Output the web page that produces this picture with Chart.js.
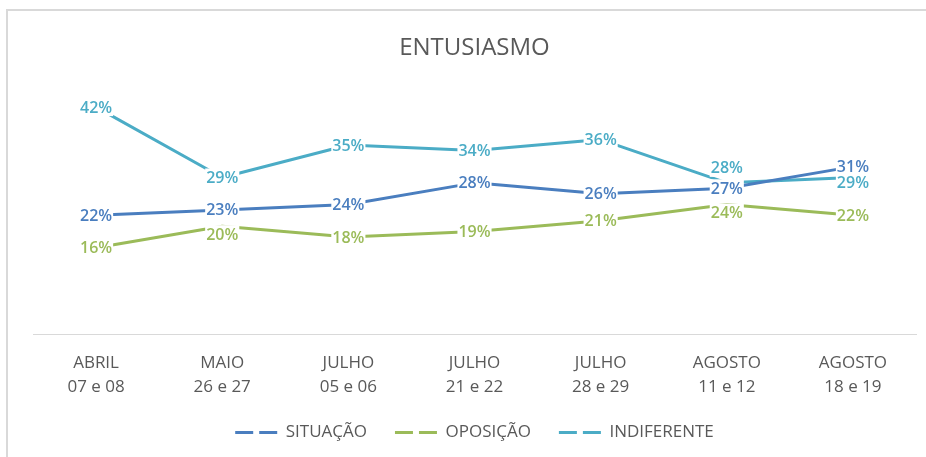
<!DOCTYPE html>
<html>
<head>
<meta charset="utf-8">
<script src="https://cdn.jsdelivr.net/npm/chart.js@4/dist/chart.umd.min.js"></script>
<style>
  html, body { margin: 0; padding: 0; background: #ffffff; }
  #wrap { position: relative; width: 926px; height: 457px; overflow: hidden; }
  #frame { position: absolute; left: 6px; top: 9px; right: -10px; bottom: -10px;
           border-top: 2px solid #d9d9d9; border-left: 2px solid #d9d9d9; }
  canvas { position: absolute; left: 0; top: 0; }
</style>
</head>
<body>
<div id="wrap">
  <div id="frame"></div>
  <canvas id="c" width="926" height="457"></canvas>
</div>
<script>
const categories = [
  ["ABRIL", "07 e 08"],
  ["MAIO", "26 e 27"],
  ["JULHO", "05 e 06"],
  ["JULHO", "21 e 22"],
  ["JULHO", "28 e 29"],
  ["AGOSTO", "11 e 12"],
  ["AGOSTO", "18 e 19"]
];
const situacao    = [0.22, 0.23, 0.24, 0.28, 0.26, 0.27, 0.31];
const oposicao    = [0.16, 0.20, 0.18, 0.19, 0.21, 0.24, 0.22];
const indiferente = [0.42, 0.29, 0.35, 0.34, 0.36, 0.28, 0.29];
const seriesNames = ["SITUAÇÃO", "OPOSIÇÃO", "INDIFERENTE"];

const colors = ["#4a7ebf", "#9bbb59", "#4bacc6"];
const FONT = "'Open Sans', 'Liberation Sans', sans-serif";

// small manual nudges for overlapping data labels (dataset index -> point index -> dy px)
const labelNudge = { 1: { 1: 8, 5: 8 }, 2: { 5: -15, 6: 5 } };

const dataLabels = {
  id: 'dataLabels',
  afterDatasetsDraw(chart) {
    const ctx = chart.ctx;
    ctx.save();
    ctx.font = "600 16px " + FONT;
    ctx.textAlign = 'center';
    ctx.textBaseline = 'middle';
    chart.data.datasets.forEach((ds, di) => {
      const meta = chart.getDatasetMeta(di);
      meta.data.forEach((pt, i) => {
        const txt = Math.round(ds.data[i] * 100) + '%';
        const dy = (labelNudge[di] && labelNudge[di][i]) || 0;
        const x = pt.x, y = pt.y + dy;
        const w = ctx.measureText(txt).width;
        ctx.fillStyle = '#ffffff';
        ctx.fillRect(x - w / 2 - 1, y - 9, w + 2, 18);
        ctx.fillStyle = ds.borderColor;
        ctx.fillText(txt, x, y + 1);
      });
    });
    ctx.restore();
  }
};

new Chart(document.getElementById('c'), {
  type: 'line',
  data: {
    labels: categories,
    datasets: [
      { label: seriesNames[0], data: situacao, borderColor: colors[0], backgroundColor: colors[0] },
      { label: seriesNames[1], data: oposicao, borderColor: colors[1], backgroundColor: colors[1] },
      { label: seriesNames[2], data: indiferente, borderColor: colors[2], backgroundColor: colors[2] }
    ]
  },
  options: {
    responsive: false,
    animation: false,
    devicePixelRatio: 1,
    layout: { padding: { left: 33, right: 10, top: 0, bottom: 6 } },
    elements: {
      line: { borderWidth: 3, tension: 0, borderCapStyle: 'round', borderJoinStyle: 'round' },
      point: { radius: 0, hoverRadius: 0 }
    },
    plugins: {
      title: {
        display: true,
        text: 'ENTUSIASMO',
        color: '#595959',
        font: { family: FONT, size: 24, weight: 'normal' },
        padding: { top: 34, bottom: 1 }
      },
      legend: {
        position: 'bottom',
        labels: {
          color: '#595959',
          font: { family: FONT, size: 17 },
          usePointStyle: true,
          pointStyle: 'line',
          pointStyleWidth: 42,
          boxWidth: 42,
          boxHeight: 17,
          padding: 28,
          generateLabels(chart) {
            const items = Chart.defaults.plugins.legend.labels.generateLabels(chart);
            items.forEach(it => {
              it.lineDash = [18, 6];
              it.lineWidth = 3;
              it.pointStyle = 'line';
            });
            return items;
          }
        }
      },
      tooltip: { enabled: false }
    },
    scales: {
      x: {
        offset: true,
        grid: { display: false },
        border: { display: true, color: '#d9d9d9', width: 1 },
        ticks: {
          color: '#595959',
          font: { family: FONT, size: 17, lineHeight: 1.4 },
          padding: 9,
          maxRotation: 0,
          autoSkip: false
        },
        afterFit(scale) {
          scale.height -= 12;
          scale._computeLabelArea = () => undefined;
        }
      },
      y: {
        display: false,
        min: 0,
        max: 0.5
      }
    }
  },
  plugins: [dataLabels]
});
</script>
</body>
</html>
